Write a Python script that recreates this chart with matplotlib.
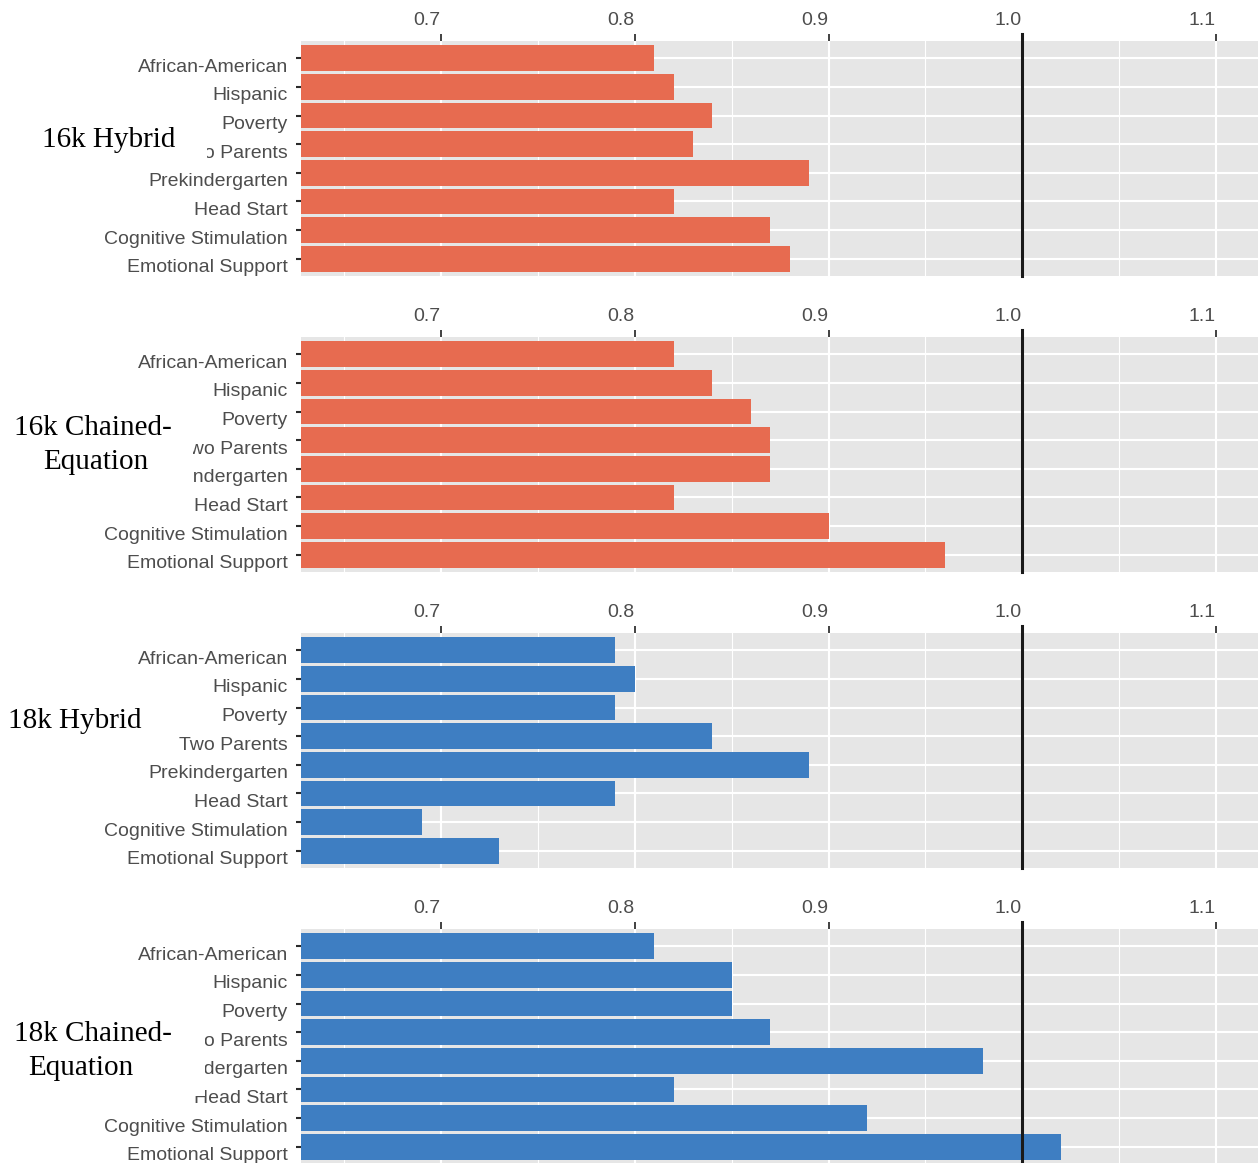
import matplotlib
matplotlib.use("Agg")
import matplotlib.pyplot as plt
import matplotlib.transforms as mtransforms
from matplotlib.patches import Rectangle
import numpy as np

# ---- data -------------------------------------------------------------
categories = ["African-American", "Hispanic", "Poverty", "Two Parents",
              "Prekindergarten", "Head Start", "Cognitive Stimulation",
              "Emotional Support"]

hybrid_16k = [0.81, 0.82, 0.84, 0.83, 0.89, 0.82, 0.87, 0.88]
chained_16k = [0.82, 0.84, 0.86, 0.87, 0.87, 0.82, 0.90, 0.96]
hybrid_18k = [0.79, 0.80, 0.79, 0.84, 0.89, 0.79, 0.69, 0.73]
chained_18k = [0.81, 0.85, 0.85, 0.87, 0.98, 0.82, 0.92, 1.02]

panel_names = ["16k Hybrid", "16k Chained-Equation",
               "18k Hybrid", "18k Chained-Equation"]
panel_values = [hybrid_16k, chained_16k, hybrid_18k, chained_18k]

x_ticks = [0.7, 0.8, 0.9, 1.0, 1.1]
x_tick_labels = ["0.7", "0.8", "0.9", "1.0", "1.1"]
x_minor = [0.65, 0.75, 0.85, 0.95, 1.05]
reference_value = 1.0

# ---- style ------------------------------------------------------------
W, H = 1258, 1163
DPI = 100
ORANGE = "#E76B50"
BLUE = "#3E7EC2"
PANEL_BG = "#E6E6E6"
TEXT_GREY = "#4D4D4D"
bar_colors = [ORANGE, ORANGE, BLUE, BLUE]

plt.rcParams["font.family"] = ["Liberation Sans", "DejaVu Sans"]

fig = plt.figure(figsize=(W / DPI, H / DPI), dpi=DPI)
fig.patch.set_facecolor("white")

left_px = 301
panel_tops = [41, 337, 633, 929]
panel_h = 235
xlim = (0.6277, 1.1217)

axes = []
for top, vals, color in zip(panel_tops, panel_values, bar_colors):
    ax = fig.add_axes([left_px / W, 1 - (top + panel_h) / H,
                       (W - left_px) / W, panel_h / H])
    ax.set_facecolor(PANEL_BG)
    y = np.arange(len(categories))
    ax.barh(y, vals, height=0.9, color=color, zorder=3)
    ax.set_xlim(*xlim)
    ax.set_ylim(len(categories) - 0.4, -0.6)

    # grid
    for xv in x_ticks:
        ax.axvline(xv, color="white", lw=1.5, zorder=1)
    for xv in x_minor:
        ax.axvline(xv, color="white", lw=0.8, zorder=1)
    for yv in y:
        ax.axhline(yv, color="white", lw=1.5, zorder=1)

    # reference line (extends through the tick area)
    ax.axvline(reference_value, ymin=0, ymax=1.03, color="#1A1A1A",
               lw=2.2, zorder=4, clip_on=False)

    for s in ax.spines.values():
        s.set_visible(False)

    ax.xaxis.tick_top()
    ax.set_xticks(x_ticks)
    ax.set_xticklabels(x_tick_labels)
    ax.set_yticks(y)
    ax.set_yticklabels(categories)
    ax.tick_params(axis="x", which="major", length=5, width=1.3,
                   color="#333333", labelsize=14, labelcolor=TEXT_GREY,
                   pad=3.4)
    ax.tick_params(axis="y", which="major", length=3.5, width=1.5,
                   color="#2A2A2A", labelsize=14, labelcolor=TEXT_GREY,
                   pad=6)

    # labels sit slightly off their ticks
    offx = mtransforms.ScaledTranslation(-14 / DPI, 0, fig.dpi_scale_trans)
    for lab in ax.get_xticklabels():
        lab.set_transform(lab.get_transform() + offx)
    offy = mtransforms.ScaledTranslation(0, -7 / DPI, fig.dpi_scale_trans)
    for lab in ax.get_yticklabels():
        lab.set_transform(lab.get_transform() + offy)
    axes.append(ax)


# ---- panel titles on white boxes ---------------------------------------
def px_rect(x0, y0, x1, y1):
    fig.patches.append(Rectangle((x0 / W, 1 - y1 / H), (x1 - x0) / W,
                                 (y1 - y0) / H, transform=fig.transFigure,
                                 facecolor="white", edgecolor="none",
                                 zorder=10))


def px_text(x, y, s):
    fig.text(x / W, 1 - y / H, s, ha="left", va="center",
             family=["Liberation Serif", "DejaVu Serif"], fontsize=21,
             color="black", zorder=11)


px_rect(0, 130, 207, 166)
px_text(42, 140, "16k Hybrid")

px_rect(0, 433, 193, 490)
px_text(14, 428, "16k Chained-")
px_text(43, 462, "Equation")

px_text(8, 721, "18k Hybrid")

px_rect(0, 1025, 205, 1096)
px_text(14, 1034, "18k Chained-")
px_text(28, 1068, "Equation")

fig.savefig("out.png", dpi=DPI, facecolor="white")
